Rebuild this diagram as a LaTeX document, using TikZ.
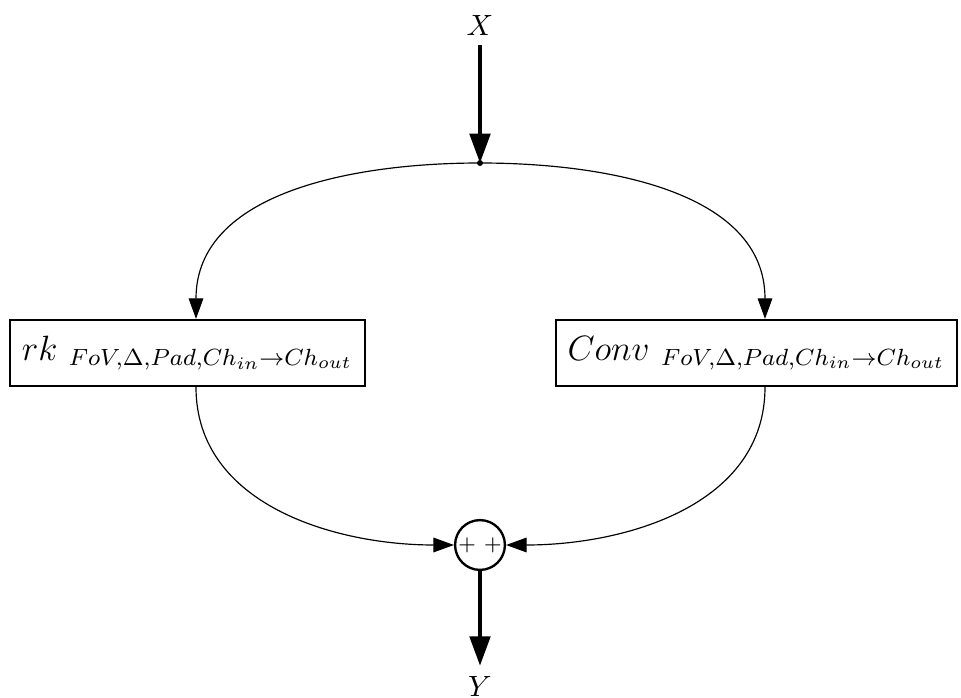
\documentclass[tikz,border=0pt]{standalone}
\usepackage{amsmath}
\usetikzlibrary{arrows.meta,calc}
\tikzset{
         blockbox/.style={draw,thick,rectangle,minimum height=22.5pt,inner sep=4pt,font=\large},
         sumnode/.style={draw,thick,circle,minimum size=17pt,inner sep=0pt,font=\scriptsize},
         bigarrow/.style={very thick,-{Triangle[length=10pt,width=7pt]}},
         curvearrow/.style={-{Triangle[length=7pt,width=5pt]}}
        }

\begin{document}
\begin{tikzpicture}[x=0.012cm,y=-0.012cm]
\useasboundingbox (0,0) rectangle (961,698);

%input and output
\node(X)at(480,25){$X$};
\node(Y)at(480,686){$Y$};
%split point
\coordinate(split)at(480,163);
\fill(split)circle(3);
%branches
\node[blockbox](rk)at(187.5,353){$rk\ _{FoV,\Delta,Pad,Ch_{in}\rightarrow Ch_{out}}$};
\node[blockbox](conv)at(756.5,353){$Conv\ _{FoV,\Delta,Pad,Ch_{in}\rightarrow Ch_{out}}$};
\coordinate(lcol)at(196,0);
\coordinate(rcol)at(765,0);
%sum
\node[sumnode](sum)at(480,545){+ +};
%connectors
\draw[bigarrow](X)--(split);
\draw[curvearrow](split)to[out=180,in=90](rk.north -| lcol);
\draw[curvearrow](split)to[out=0,in=90](conv.north -| rcol);
\draw[curvearrow](rk.south -| lcol)to[out=-90,in=180](sum.west);
\draw[curvearrow](conv.south -| rcol)to[out=-90,in=0](sum.east);
\draw[bigarrow](sum)--(Y);

\end{tikzpicture}
\end{document}
